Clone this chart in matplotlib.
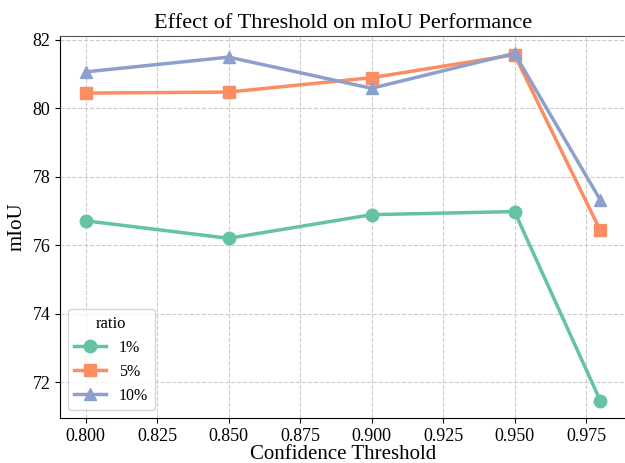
import matplotlib
matplotlib.use("Agg")
import matplotlib.pyplot as plt

thresholds = [0.80, 0.85, 0.90, 0.95, 0.98]
ratio_labels = ["1%", "5%", "10%"]
miou_1 = [76.71, 76.20, 76.89, 76.98, 71.46]
miou_5 = [80.44, 80.47, 80.89, 81.56, 76.43]
miou_10 = [81.06, 81.49, 80.58, 81.60, 77.32]
colors = ["#66c2a5", "#fc8d62", "#8da0cb"]
markers = ["o", "s", "^"]

plt.rcParams['font.family'] = ['Liberation Serif', 'DejaVu Serif']

fig = plt.figure(figsize=(6.25, 4.63), dpi=100)
ax = fig.add_axes([60/625, 1 - 418/463, (626-60)/625, (418-36)/463])

for vals, lab, c, m in zip([miou_1, miou_5, miou_10], ratio_labels, colors, markers):
    ax.plot(thresholds, vals, marker=m, color=c, label=lab, linewidth=2.5, markersize=9)

ax.grid(True, linestyle='--', color='#cccccc', linewidth=0.8)
ax.set_axisbelow(True)
ax.tick_params(labelsize=13)
ax.set_xlabel("Confidence Threshold", fontsize=15, labelpad=0.5)
ax.set_ylabel("mIoU", fontsize=15)
ax.set_title("Effect of Threshold on mIoU Performance", fontsize=16)
ax.spines['top'].set_color('#555555')
ax.xaxis.set_major_formatter(matplotlib.ticker.FormatStrFormatter('%.3f'))
ax.legend(title="ratio", loc="lower left", fontsize=11.5, title_fontsize=12)

fig.savefig("out.png", dpi=100)
